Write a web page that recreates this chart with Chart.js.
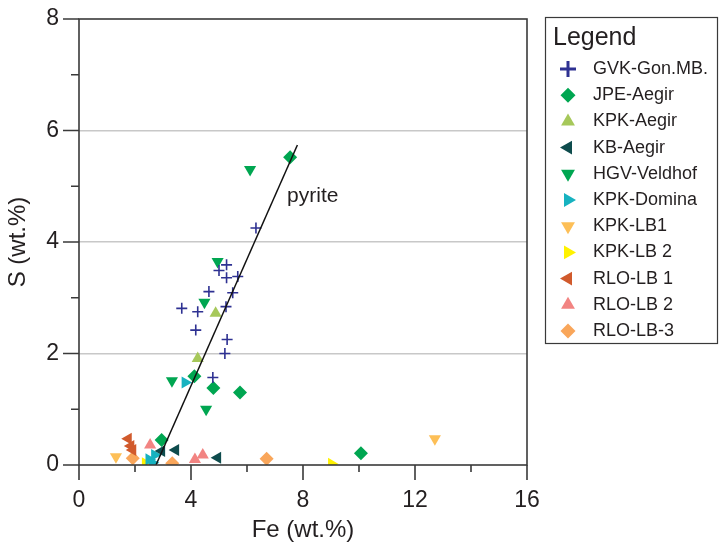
<!DOCTYPE html>
<html>
<head>
<meta charset="utf-8">
<title>Fe vs S</title>
<script src="https://cdn.jsdelivr.net/npm/chart.js@4.4.0/dist/chart.umd.min.js"></script>
<style>
  html, body { margin: 0; padding: 0; background: #fff; }
</style>
</head>
<body>
<canvas id="feChart" width="721" height="546"></canvas>
<script>
// Fe and S contents (wt.%) per sample group
const gvkFe = [6.32, 5.27, 5.00, 5.27, 5.67, 4.64, 5.49, 3.67, 4.24, 5.25, 4.17, 5.29, 5.21, 4.78];
const gvkS  = [4.25, 3.59, 3.49, 3.36, 3.38, 3.11, 3.09, 2.81, 2.75, 2.84, 2.42, 2.25, 2.00, 1.57];

const jpeFe = [7.54, 4.12, 4.80, 5.75, 2.95, 10.07];
const jpeS  = [5.52, 1.59, 1.38, 1.30, 0.45, 0.21];

const kpkAegirFe = [4.88, 4.24];
const kpkAegirS  = [2.72, 1.91];

const kbAegirFe = [2.95, 3.45, 4.95];
const kbAegirS  = [0.25, 0.27, 0.13];

const hgvFe = [6.11, 4.95, 4.48, 3.32, 4.54];
const hgvS  = [5.30, 3.65, 2.92, 1.51, 1.00];

const dominaFe = [3.79, 2.50, 2.62, 2.70];
const dominaS  = [1.48, 0.10, 0.04, 0.18];

const kpkLb1Fe = [1.32, 12.71];
const kpkLb1S  = [0.15, 0.47];

const kpkLb2Fe = [2.37, 9.02];
const kpkLb2S  = [0.03, 0.02];

const rloLb1Fe = [1.76, 1.85, 1.92];
const rloLb1S  = [0.47, 0.34, 0.27];

const rloLb2Fe = [2.54, 4.14, 4.42];
const rloLb2S  = [0.36, 0.10, 0.18];

const rloLb3Fe = [1.92, 3.33, 6.70];
const rloLb3S  = [0.12, 0.03, 0.11];

// pyrite trend line and where its label sits
const pyriteFe = [2.75, 7.80];
const pyriteS  = [0, 5.74];
const pyriteLabel = { x: 7.43, y: 4.83 };

const xTicks = [0, 4, 8, 12, 16];
const yTicks = [0, 2, 4, 6, 8];

const FONT = '"Liberation Sans", Arial, sans-serif';
const INK = '#231f20';

function series(label, fe, s, shape, rot, color, r) {
    return {
        label: label,
        data: fe.map((v, i) => ({ x: v, y: s[i] })),
        pointStyle: shape,
        pointRotation: rot,
        pointRadius: r,
        pointHoverRadius: r,
        pointBackgroundColor: color,
        pointBorderColor: color,
        pointBorderWidth: shape === 'cross' ? 1.6 : 0,
        showLine: false
    };
}

const datasets = [
    {
        label: 'pyrite',
        data: pyriteFe.map((v, i) => ({ x: v, y: pyriteS[i] })),
        showLine: true,
        borderColor: '#111',
        borderWidth: 1.5,
        pointRadius: 0,
        noLegend: true
    },
    series('GVK-Gon.MB.', gvkFe, gvkS, 'cross', 0, '#2e3192', 5.5),
    series('JPE-Aegir', jpeFe, jpeS, 'rectRot', 0, '#00a651', 7),
    series('KPK-Aegir', kpkAegirFe, kpkAegirS, 'triangle', 0, '#a6c85a', 7),
    series('KB-Aegir', kbAegirFe, kbAegirS, 'triangle', -90, '#0e4c4d', 7),
    series('HGV-Veldhof', hgvFe, hgvS, 'triangle', 180, '#00a651', 7),
    series('KPK-Domina', dominaFe, dominaS, 'triangle', 90, '#17b2c0', 7),
    series('KPK-LB1', kpkLb1Fe, kpkLb1S, 'triangle', 180, '#fdbf57', 7),
    series('KPK-LB 2', kpkLb2Fe, kpkLb2S, 'triangle', 90, '#fff200', 7),
    series('RLO-LB 1', rloLb1Fe, rloLb1S, 'triangle', -90, '#d15a2c', 7),
    series('RLO-LB 2', rloLb2Fe, rloLb2S, 'triangle', 0, '#f28482', 7),
    series('RLO-LB-3', rloLb3Fe, rloLb3S, 'rectRot', 0, '#f9a65a', 7)
];

// box around the plot, outward tick marks, pyrite label
const framePlugin = {
    id: 'frame',
    afterDraw(chart) {
        const { ctx, chartArea: a, scales: { x, y } } = chart;
        ctx.save();
        ctx.strokeStyle = '#3a3a3a';
        ctx.lineWidth = 1.6;
        ctx.strokeRect(a.left, a.top, a.right - a.left, a.bottom - a.top);

        ctx.beginPath();
        y.ticks.forEach(t => {
            const py = y.getPixelForValue(t.value);
            const len = yTicks.includes(t.value) ? 16 : 8;
            ctx.moveTo(a.left - len, py);
            ctx.lineTo(a.left, py);
        });
        x.ticks.forEach(t => {
            const px = x.getPixelForValue(t.value);
            const len = xTicks.includes(t.value) ? 15 : 7;
            ctx.moveTo(px, a.bottom);
            ctx.lineTo(px, a.bottom + len);
        });
        ctx.stroke();

        ctx.fillStyle = INK;
        ctx.font = '21px ' + FONT;
        ctx.textAlign = 'left';
        ctx.textBaseline = 'middle';
        ctx.fillText('pyrite', x.getPixelForValue(pyriteLabel.x), y.getPixelForValue(pyriteLabel.y));
        ctx.restore();
    }
};

// boxed legend to the right of the plot
const boxLegend = {
    id: 'boxLegend',
    afterDraw(chart) {
        const ctx = chart.ctx;
        const left = 545, top = 17, w = 172, h = 326;
        ctx.save();
        ctx.strokeStyle = '#3a3a3a';
        ctx.lineWidth = 1.2;
        ctx.strokeRect(left + 0.5, top + 0.5, w, h);

        ctx.fillStyle = INK;
        ctx.textBaseline = 'middle';
        ctx.textAlign = 'left';
        ctx.font = '25px ' + FONT;
        ctx.fillText('Legend', left + 8, top + 21);

        ctx.font = '18px ' + FONT;
        let row = 0;
        chart.data.datasets.forEach(ds => {
            if (ds.noLegend) return;
            const cy = top + 52 + row * 26.2;
            const cross = ds.pointStyle === 'cross';
            ctx.fillStyle = ds.pointBackgroundColor;
            ctx.strokeStyle = ds.pointBorderColor;
            ctx.lineWidth = cross ? 3 : 0;
            Chart.helpers.drawPoint(ctx, {
                pointStyle: ds.pointStyle,
                rotation: ds.pointRotation,
                radius: cross ? 8 : (ds.pointStyle === 'rectRot' ? 7.5 : 8),
                borderWidth: cross ? 3 : 0
            }, left + 23, cy);
            ctx.fillStyle = INK;
            ctx.fillText(ds.label, left + 48, cy);
            row++;
        });
        ctx.restore();
    }
};

const ctx = document.getElementById('feChart').getContext('2d');
const chart = new Chart(ctx, {
    type: 'scatter',
    data: { datasets: datasets },
    options: {
        responsive: false,
        animation: false,
        layout: { padding: { top: 19, right: 194, left: 0, bottom: 0 } },
        plugins: {
            legend: { display: false },
            tooltip: { enabled: false }
        },
        scales: {
            x: {
                type: 'linear',
                min: 0,
                max: 16,
                ticks: {
                    stepSize: 2,
                    autoSkip: false,
                    maxRotation: 0,
                    padding: 22,
                    color: INK,
                    font: { family: FONT, size: 23 },
                    callback: v => xTicks.includes(v) ? v : ''
                },
                grid: { display: false, drawTicks: false },
                border: { display: false },
                title: {
                    display: true,
                    text: 'Fe (wt.%)',
                    color: INK,
                    font: { family: FONT, size: 24 },
                    padding: { top: 0, bottom: 1 }
                },
                afterFit(scale) { scale.height = 81; }
            },
            y: {
                type: 'linear',
                min: 0,
                max: 8,
                ticks: {
                    stepSize: 1,
                    autoSkip: false,
                    padding: 20,
                    color: INK,
                    font: { family: FONT, size: 23 },
                    callback: v => yTicks.includes(v) ? v : ''
                },
                grid: {
                    drawTicks: false,
                    lineWidth: 1.5,
                    color: c => (c.tick && [2, 4, 6].includes(c.tick.value)) ? '#c8c8c8' : 'rgba(0,0,0,0)'
                },
                border: { display: false },
                title: {
                    display: true,
                    text: 'S (wt.%)',
                    color: INK,
                    font: { family: FONT, size: 24 },
                    padding: { top: 4, bottom: 0 }
                },
                afterFit(scale) {
                    scale.width = 79;
                    // top label may overhang the plot; the layout padding covers it
                    scale.paddingTop = 0;
                    scale.paddingBottom = 0;
                }
            }
        }
    },
    plugins: [framePlugin, boxLegend]
});
</script>
</body>
</html>
